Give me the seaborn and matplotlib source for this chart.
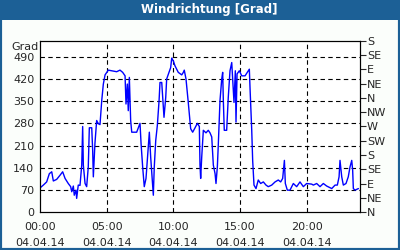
import matplotlib
matplotlib.use("Agg")
import matplotlib.pyplot as plt
import matplotlib.patches as mpatches
import seaborn as sns
import pandas as pd
import numpy as np

# hours since 00:00 on 04.04.14
hours = [0.0, 0.25, 0.5, 0.7, 0.88, 1.0, 1.25, 1.5, 1.7, 1.88, 2.12, 2.3, 2.38, 2.5, 2.57, 2.7, 2.75, 2.87,
         3.0, 3.13, 3.2, 3.25, 3.38, 3.5, 3.62, 3.7, 3.88, 3.95, 4.0, 4.12, 4.25, 4.37, 4.5, 4.63, 4.75, 4.88,
         5.12, 5.38, 5.75, 6.0, 6.2, 6.38, 6.45, 6.55, 6.62, 6.7, 6.8, 6.88, 7.25, 7.5, 7.58, 7.7, 7.82, 7.95,
         8.12, 8.2, 8.3, 8.5, 8.57, 8.68, 8.8, 8.93, 9.0, 9.13, 9.3, 9.43, 9.5, 9.8, 9.88, 10.0, 10.12, 10.37,
         10.63, 10.75, 10.82, 10.95, 11.12, 11.3, 11.45, 11.63, 11.8, 11.95, 12.0, 12.05, 12.13, 12.25, 12.45,
         12.62, 12.75, 12.88, 13.0, 13.13, 13.2, 13.3, 13.37, 13.5, 13.63, 13.7, 13.75, 13.82, 14.0, 14.12,
         14.25, 14.38, 14.45, 14.55, 14.65, 14.7, 14.78, 14.95, 15.13, 15.38, 15.7, 15.75, 15.88, 15.95, 16.05,
         16.2, 16.37, 16.55, 16.75, 16.95, 17.12, 17.38, 17.63, 17.87, 18.05, 18.2, 18.33, 18.4, 18.55, 18.75,
         19.0, 19.25, 19.5, 19.75, 20.0, 20.38, 20.5, 20.75, 21.0, 21.25, 21.5, 21.88, 22.13, 22.3, 22.43,
         22.5, 22.63, 22.75, 22.95, 23.12, 23.25, 23.38, 23.45, 23.5, 23.63, 23.88]
direction = [76, 85, 95, 121, 127, 98, 103, 116, 127, 106, 90, 80, 64, 82, 53, 69, 43, 85,
             84, 148, 270, 148, 90, 80, 142, 266, 266, 195, 111, 216, 289, 279, 276, 352, 404, 433,
             448, 446, 443, 448, 441, 430, 341, 404, 320, 425, 289, 252, 252, 280, 216, 142, 80, 106,
             205, 252, 174, 53, 142, 226, 273, 352, 409, 409, 299, 362, 420, 456, 486, 477, 462, 441,
             433, 441, 448, 420, 346, 263, 252, 266, 280, 270, 148, 106, 174, 258, 250,
             258, 250, 237, 148, 121, 90, 142, 210, 352, 420, 441, 352, 258, 258, 362,
             446, 472, 420, 346, 446, 284, 436, 446, 430, 430, 451, 394, 258, 163, 85,
             74, 101, 90, 95, 85, 80, 85, 95, 101, 95, 106, 163, 90, 69, 69,
             90, 80, 95, 80, 90, 88, 85, 90, 80, 90, 82, 74, 85, 85, 111,
             163, 111, 85, 90, 111, 142, 163, 132, 74, 69, 74]

left_ticks = [0, 70, 140, 210, 280, 350, 420, 490]
right_ticks = [0, 45, 90, 135, 180, 225, 270, 315, 360, 405, 450, 495, 540]
right_labels = ["N", "NE", "E", "SE", "S", "SW", "W", "NW", "N", "NE", "E", "SE", "S"]
x_major = [0, 5, 10, 15, 20]
x_labels = ["00:00\n04.04.14", "05:00\n04.04.14", "10:00\n04.04.14", "15:00\n04.04.14", "20:00\n04.04.14"]

df = pd.DataFrame({"hour": hours, "dir": direction})

sns.set_style("white")
plt.rcParams["font.family"] = ["DejaVu Sans"]

fig = plt.figure(figsize=(4, 2.5), dpi=100, facecolor="#fbfefb")
blue = "#1c6096"
fig.patches.append(mpatches.Rectangle((0, 0), 1, 1, transform=fig.transFigure,
                                      fill=False, edgecolor=blue, linewidth=3, zorder=0))
fig.patches.append(mpatches.Rectangle((0, 1 - 20 / 250), 1, 20 / 250, transform=fig.transFigure,
                                      facecolor=blue, edgecolor="none", zorder=1))
fig.text(209 / 400, 1 - 10 / 250, "Windrichtung [Grad]", color="white", fontsize=8.5,
         fontweight="bold", ha="center", va="center")

ax = fig.add_axes([40 / 400, 38 / 250, 320 / 400, 171 / 250])
ax.set_facecolor("white")
sns.lineplot(data=df, x="hour", y="dir", ax=ax, color="#0000ff", linewidth=1.0)
ax.set_xlim(0, 24)
ax.set_ylim(0, 540)
ax.set_xlabel("")
ax.set_ylabel("")
ax.set_yticks(left_ticks)
ax.set_yticklabels([str(v) for v in left_ticks], fontsize=8)
ax.set_xticks(x_major)
ax.set_xticklabels(x_labels, fontsize=8, linespacing=1.75)
ax.set_xticks(range(0, 25), minor=True)
ax.tick_params(axis="x", which="major", direction="in", length=4, width=0.8, pad=7)
ax.tick_params(axis="x", which="minor", direction="in", length=3, width=0.8)
ax.tick_params(axis="y", which="both", length=0, pad=4)
for s in ax.spines.values():
    s.set_color("black")
    s.set_linewidth(0.8)
for v in left_ticks[1:]:
    ax.axhline(v, color="black", linestyle=(0, (4, 3)), linewidth=0.8, zorder=0)
for v in x_major[1:]:
    ax.axvline(v, color="black", linestyle=(0, (4, 3)), linewidth=0.8, zorder=0)

ax2 = ax.twinx()
ax2.set_ylim(0, 540)
ax2.set_yticks(right_ticks)
ax2.set_yticklabels(right_labels, fontsize=8)
ax2.tick_params(axis="y", direction="out", length=4, width=0.8, pad=1)
for s in ax2.spines.values():
    s.set_color("black")
    s.set_linewidth(0.8)

fig.text(25 / 400, 1 - 47 / 250, "Grad", fontsize=8, ha="center", va="center")

fig.savefig("out.png", dpi=100, facecolor=fig.get_facecolor())
